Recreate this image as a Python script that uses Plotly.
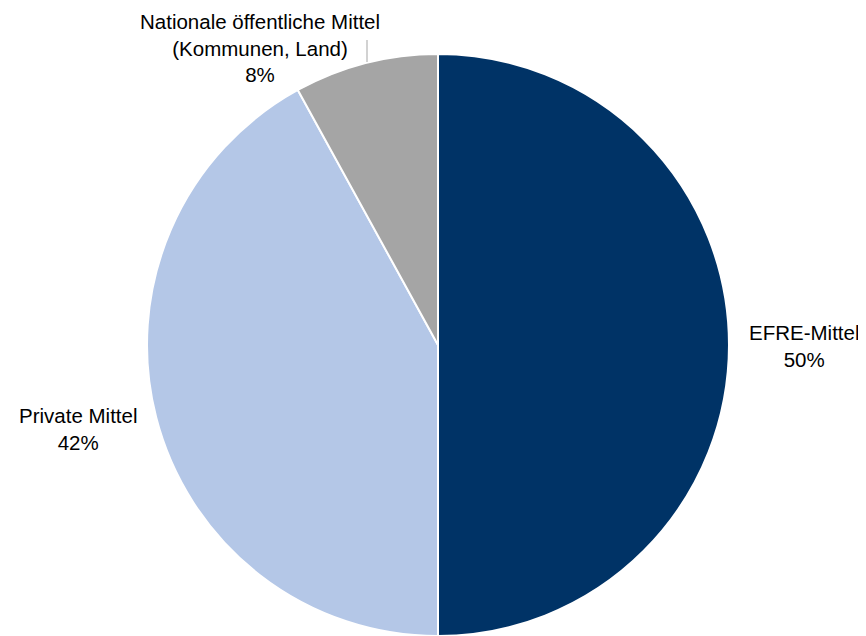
import plotly.graph_objects as go

labels = ["EFRE-Mittel", "Private Mittel", "Nationale öffentliche Mittel<br>(Kommunen, Land)"]
values = [50, 42, 8]
colors = ["#003366", "#B4C7E7", "#A5A5A5"]

W, H = 858, 628  # page adds an 8px body margin
fig = go.Figure(go.Pie(
    labels=labels, values=values, sort=False, direction="clockwise", rotation=0,
    marker=dict(colors=colors, line=dict(color="white", width=2)),
    textinfo="none", hoverinfo="label+percent", showlegend=False,
    domain=dict(x=[(430 - 291) / W, (430 + 291) / W], y=[0.0, 582 / H]),
))

font = dict(family="Liberation Sans, Arial, sans-serif", size=20.5, color="black")
annos = [
    (804, 346, labels[0] + "<br>" + f"{values[0]}%"),
    (78, 429, labels[1] + "<br>" + f"{values[1]}%"),
    (260, 48, labels[2] + "<br>" + f"{values[2]}%"),
]
for x, y, t in annos:
    fig.add_annotation(x=x - 8, y=H - (y - 8), xref="x", yref="y", text=t, showarrow=False,
                       font=font, align="center", xanchor="center", yanchor="middle")

fig.add_shape(type="line", x0=367 - 8, x1=367 - 8, y0=H - 32, y1=H - 54, xref="x", yref="y",
              line=dict(color="#A5A5A5", width=1))

fig.update_layout(
    width=W, height=H, margin=dict(l=0, r=0, t=0, b=0),
    paper_bgcolor="white", plot_bgcolor="rgba(0,0,0,0)",
    xaxis=dict(range=[0, W], visible=False, fixedrange=True),
    yaxis=dict(range=[0, H], visible=False, fixedrange=True),
)
fig.write_html("out.html")
